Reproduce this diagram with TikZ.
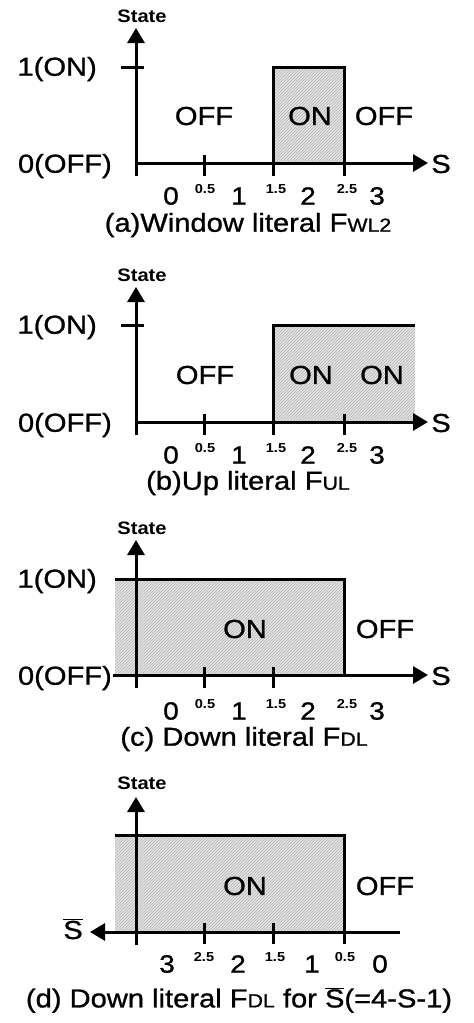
\documentclass[tikz,border=0pt]{standalone}
\usepackage{fontspec}
\setmainfont{Liberation Sans}[FakeStretch=1.12,UprightFeatures={FakeBold=1}]
\usetikzlibrary{arrows.meta,patterns}
\newcommand{\smalltxt}[1]{{\fontsize{19}{19}\selectfont #1}}
\newcommand{\Sbar}{$\overline{\mbox{S}}$}
\tikzset{
  lw/.style={line width=3pt},
  ax/.style={line width=3pt,-{Triangle[length=15pt,width=17pt]}},
  hatch/.style={fill=black!10,postaction={pattern=north east lines,pattern color=black!30}},
  lab/.style={font=\fontsize{26}{30}\selectfont,inner sep=0pt},
  dig/.style={font=\fontsize{25}{28}\selectfont,inner sep=0pt},
  sm/.style={font=\bfseries\fontsize{13}{14}\selectfont,inner sep=0pt},
  st/.style={font=\bfseries\fontsize{18}{20}\selectfont,inner sep=0pt},
  captext/.style={font=\fontsize{26}{30}\selectfont,inner sep=0pt}
}
\begin{document}
\begin{tikzpicture}[x=1pt,y=-1pt]
\fill[white] (0,0) rectangle (474,1023);
\useasboundingbox (0,0) rectangle (474,1023);

% ---------------- panel (a)
\fill[hatch] (273,67) rectangle (344,163);
\node[st] (sa) at (142,16) {State};
\draw[ax] (136,176) -- (136,28);
\draw[lw] (121,67) -- (144,67);
\draw[ax] (136,163) -- (428,163);
\node[lab] (xa) at (441,164) {S};
\draw[lw] (204,155) -- (204,176);
\draw[lw] (273,176) -- (273,67) -- (344,67) -- (344,176);
\node[lab,anchor=east] (ona) at (97,69) {1(ON)};
\node[lab,anchor=east] (offa) at (112,166) {0(OFF)};
\node[lab] (a1) at (204,116) {OFF};
\node[lab] (a2) at (310,116) {ON};
\node[lab] (a3) at (384,116) {OFF};
\node[dig] (ad0) at (171,196) {0};
\node[dig] (ad1) at (239,196) {1};
\node[dig] (ad2) at (308,196) {2};
\node[dig] (ad3) at (377,196) {3};
\node[sm] (as1) at (205,189) {0.5};
\node[sm] (as2) at (276,189) {1.5};
\node[sm] (as3) at (347,189) {2.5};
\node[captext] (capa) at (248,225) {(a)Window literal F\smalltxt{WL2}};

% ---------------- panel (b)
\fill[hatch] (273,325) rectangle (415,422);
\node[st] (sb) at (142,275) {State};
\draw[ax] (136,435) -- (136,287);
\draw[lw] (121,325) -- (144,325);
\draw[ax] (136,422) -- (428,422);
\node[lab] (xb) at (441,423) {S};
\draw[lw] (204,414) -- (204,435);
\draw[lw] (344,414) -- (344,435);
\draw[lw] (273,435) -- (273,325) -- (415,325);
\node[lab,anchor=east] (onb) at (97,327) {1(ON)};
\node[lab,anchor=east] (offb) at (112,425) {0(OFF)};
\node[lab] (b1) at (205,375) {OFF};
\node[lab] (b2) at (311,375) {ON};
\node[lab] (b3) at (382,375) {ON};
\node[dig] (bd0) at (171,455) {0};
\node[dig] (bd1) at (239,455) {1};
\node[dig] (bd2) at (308,455) {2};
\node[dig] (bd3) at (377,455) {3};
\node[sm] (bs1) at (205,448) {0.5};
\node[sm] (bs2) at (276,448) {1.5};
\node[sm] (bs3) at (347,448) {2.5};
\node[captext] (capb) at (248,483) {(b)Up literal F\smalltxt{UL}};

% ---------------- panel (c)
\fill[hatch] (115,579) rectangle (344,675);
\node[st] (sc) at (142,528) {State};
\draw[ax] (136,688) -- (136,540);
\draw[ax] (113,675) -- (428,675);
\node[lab] (xc) at (441,676) {S};
\draw[lw] (204,667) -- (204,688);
\draw[lw] (273,667) -- (273,688);
\draw[lw] (115,579) -- (344,579) -- (344,675);
\node[lab,anchor=east] (onc) at (97,581) {1(ON)};
\node[lab,anchor=east] (offc) at (112,678) {0(OFF)};
\node[lab] (c1) at (245,629) {ON};
\node[lab] (c2) at (385,629) {OFF};
\node[dig] (cd0) at (171,711) {0};
\node[dig] (cd1) at (239,711) {1};
\node[dig] (cd2) at (308,711) {2};
\node[dig] (cd3) at (377,711) {3};
\node[sm] (cs1) at (205,704) {0.5};
\node[sm] (cs2) at (276,704) {1.5};
\node[sm] (cs3) at (347,704) {2.5};
\node[captext] (capc) at (244,739) {(c) Down literal F\smalltxt{DL}};

% ---------------- panel (d)
\fill[hatch] (115,835) rectangle (344,932);
\node[st] (sd) at (142,783) {State};
\draw[ax] (136,945) -- (136,797);
\draw[ax] (400,932) -- (90,932);
\node[lab] (xd) at (73,929) {\Sbar};
\draw[lw] (204,923) -- (204,944);
\draw[lw] (273,923) -- (273,944);
\draw[lw] (115,835) -- (344,835) -- (344,944);
\node[lab] (d1) at (245,886) {ON};
\node[lab] (d2) at (385,886) {OFF};
\node[dig] (dd3) at (167,964) {3};
\node[dig] (dd2) at (238,964) {2};
\node[dig] (dd1) at (312,964) {1};
\node[dig] (dd0) at (380,964) {0};
\node[sm] (ds1) at (204,957) {2.5};
\node[sm] (ds2) at (275,957) {1.5};
\node[sm] (ds3) at (345,957) {0.5};
\node[captext] (capd) at (239,1000) {(d) Down literal F\smalltxt{DL} for \Sbar(=4-S-1)};
\end{tikzpicture}
\end{document}
